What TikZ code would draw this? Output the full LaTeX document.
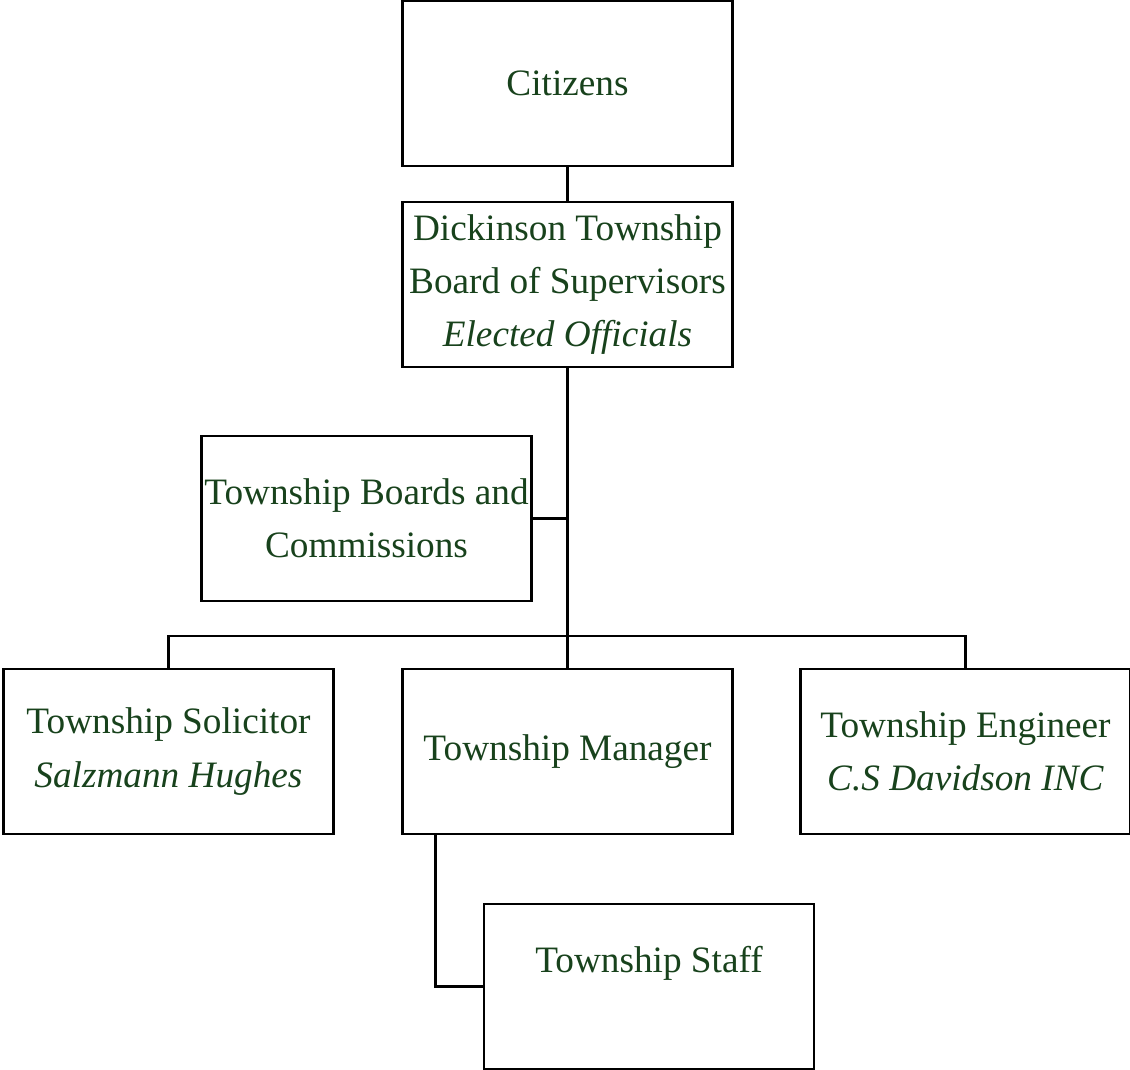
\documentclass[tikz,border=0pt]{standalone}
\usepackage{fontspec}
\setmainfont{Liberation Serif}
\usepackage{tikz}
\usetikzlibrary{positioning,calc}
\definecolor{orggreen}{RGB}{24,66,28}

\begin{document}
\begin{tikzpicture}[
  orgbox/.style={draw, line width=1.5pt, minimum width=6.6cm, minimum height=3.3cm,
                 inner sep=0pt, outer sep=0pt, align=center, text=orggreen,
                 font=\fontsize{21.2}{30.4}\selectfont},
  link/.style={line width=1.6pt},
  node distance=0.74cm
]
\useasboundingbox (0,0) rectangle (22.6,-21.4);

\node[orgbox] (citizens) at (11.35,-1.67) {Citizens};
\node[orgbox, below=0.72cm of citizens] (board)
  {Dickinson Township\\Board of Supervisors\\\textit{Elected Officials}};
\node[orgbox, below=1.38cm of board, xshift=-4.02cm] (commissions)
  {Township Boards and\\Commissions};

%% Bottom row, centred under the board
\node[orgbox, below=6.04cm of board]  (manager)   {Township Manager};
\node[orgbox, left=1.38cm of manager]  (solicitor) {Township Solicitor\\\textit{Salzmann Hughes}};
\node[orgbox, right=1.36cm of manager] (engineer)  {Township Engineer\\\textit{C.S Davidson INC}};
\node[orgbox, below=1.4cm of manager, xshift=1.63cm] (staff) {Township Staff\\\mbox{}};

%% Trunk and branches
\draw[link] (citizens) -- (board);
\draw[link] (board.south) -- (manager.north);
\draw[link] (commissions.east) -- (commissions.east -| board.south);

\coordinate (bus) at ($(manager.north) + (0,0.66)$);
\draw[link] (solicitor.north) |- (bus) -| (engineer.north);

\coordinate (drop) at ($(manager.south west) + (0.66,0)$);
\draw[link] (drop) |- (staff.west);

\end{tikzpicture}
\end{document}
